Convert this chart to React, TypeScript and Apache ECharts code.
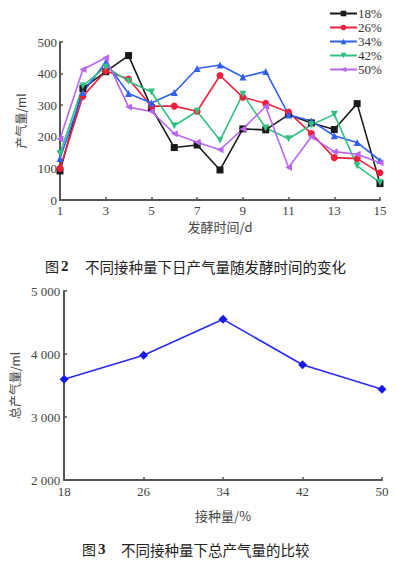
import React, { useEffect, useRef } from "react";
import * as echarts from "echarts";

const days = ["1", "2", "3", "4", "5", "6", "7", "8", "9", "10", "11", "12", "13", "14", "15"];
const s18 = [92, 353, 406, 457, 292, 166, 174, 95, 225, 222, 270, 244, 223, 305, 52];
const s26 = [100, 328, 408, 383, 297, 297, 281, 394, 325, 306, 278, 210, 134, 131, 86];
const s34 = [131, 340, 436, 337, 307, 340, 416, 427, 389, 407, 270, 250, 203, 182, 125];
const s42 = [147, 361, 421, 376, 342, 235, 281, 189, 335, 228, 194, 238, 271, 108, 55];
const s50 = [193, 413, 450, 294, 280, 210, 183, 159, 225, 296, 103, 200, 153, 145, 118];
const seriesNames = ["18%", "26%", "34%", "42%", "50%"];

const inoculum = ["18", "26", "34", "42", "50"];
const totalGas = [3600, 3980, 4550, 3830, 3440];

const SERIF = "'Liberation Serif', 'DejaVu Serif', serif";
const CJK = "'Noto Sans CJK SC', sans-serif";
const AX = "#555";

export default function App() {
  const ref = useRef<HTMLDivElement>(null);
  useEffect(() => {
    if (!ref.current) return;
    const chart = echarts.init(ref.current, undefined, { renderer: "svg" });
    const colors = ["#1a1a1a", "#f0203c", "#3060f0", "#30c080", "#b866f0"];
    const symbols = [
      "rect",
      "circle",
      "triangle",
      "path://M0,0 L10,0 L5,9 Z",
      "path://M0,5 L9,0 L9,10 Z",
    ];
    const data = [s18, s26, s34, s42, s50];
    const axisLineStyle = { show: true, lineStyle: { color: AX, width: 2 } };
    const tickStyle = { show: true, inside: true, length: 3, lineStyle: { color: AX, width: 1.5 } };
    const labelStyle = { color: "#444", fontFamily: SERIF, fontSize: 13 };
    const fmt = (v: number) =>
      v >= 1000 ? `${Math.floor(v / 1000)} ${String(v % 1000).padStart(3, "0")}` : String(v);

    chart.setOption({
      animation: false,
      backgroundColor: "#fff",
      legend: {
        data: seriesNames,
        orient: "vertical",
        left: 329,
        top: 7,
        padding: 0,
        itemWidth: 27,
        itemHeight: 7,
        itemGap: 1,
        textStyle: { color: "#333", fontFamily: SERIF, fontSize: 13, padding: [0, 0, 0, -4] },
      },
      grid: [
        { left: 60, top: 42, width: 320, height: 158 },
        { left: 62, top: 291, width: 320, height: 189 },
      ],
      xAxis: [
        {
          type: "category",
          gridIndex: 0,
          data: days,
          boundaryGap: false,
          axisLine: axisLineStyle,
          axisTick: { ...tickStyle, interval: 1 },
          axisLabel: { ...labelStyle, interval: 1, margin: 4 },
          name: "发酵时间/d",
          nameLocation: "middle",
          nameGap: 20,
          nameTextStyle: { color: "#444", fontFamily: CJK, fontSize: 13 },
          splitLine: { show: false },
        },
        {
          type: "category",
          gridIndex: 1,
          data: inoculum,
          boundaryGap: false,
          axisLine: axisLineStyle,
          axisTick: tickStyle,
          axisLabel: { ...labelStyle, margin: 5 },
          name: "接种量/%",
          nameLocation: "middle",
          nameGap: 29,
          nameTextStyle: { color: "#444", fontFamily: CJK, fontSize: 13 },
          splitLine: { show: false },
        },
      ],
      yAxis: [
        {
          type: "value",
          gridIndex: 0,
          min: 0,
          max: 500,
          interval: 100,
          axisLine: axisLineStyle,
          axisTick: tickStyle,
          axisLabel: { ...labelStyle, margin: 3 },
          splitLine: { show: false },
          name: "产气量/ml",
          nameLocation: "middle",
          nameRotate: 90,
          nameGap: 34,
          nameTextStyle: { color: "#444", fontFamily: CJK, fontSize: 12 },
        },
        {
          type: "value",
          gridIndex: 1,
          min: 2000,
          max: 5000,
          interval: 1000,
          axisLine: axisLineStyle,
          axisTick: tickStyle,
          axisLabel: { ...labelStyle, margin: 4, formatter: fmt },
          splitLine: { show: false },
          name: "总产气量/ml",
          nameLocation: "middle",
          nameRotate: 90,
          nameGap: 43,
          nameTextStyle: { color: "#444", fontFamily: CJK, fontSize: 12 },
        },
      ],
      series: [
        ...seriesNames.map((n, i) => ({
          name: n,
          type: "line",
          xAxisIndex: 0,
          yAxisIndex: 0,
          data: data[i],
          symbol: symbols[i],
          symbolSize: 7,
          showAllSymbol: true,
          lineStyle: { color: colors[i], width: 1.6 },
          itemStyle: { color: colors[i] },
        })),
        {
          name: "总产气量",
          type: "line",
          xAxisIndex: 1,
          yAxisIndex: 1,
          data: totalGas,
          symbol: "diamond",
          symbolSize: 9,
          lineStyle: { color: "#2a2af0", width: 1.6 },
          itemStyle: { color: "#1a1ae8" },
        },
      ],
      graphic: [
        { type: "text", x: 45, y: 266, style: { text: "图", fontFamily: CJK, fontSize: 14, fill: "#222", textVerticalAlign: "middle" } },
        { type: "text", x: 61, y: 266, style: { text: "2", fontFamily: SERIF, fontWeight: "bold", fontSize: 15, fill: "#222", textVerticalAlign: "middle" } },
        { type: "text", x: 85, y: 266, style: { text: "不同接种量下日产气量随发酵时间的变化", fontFamily: CJK, fontSize: 14.5, fill: "#222", textVerticalAlign: "middle" } },
        { type: "text", x: 82, y: 549, style: { text: "图", fontFamily: CJK, fontSize: 14, fill: "#222", textVerticalAlign: "middle" } },
        { type: "text", x: 98, y: 549, style: { text: "3", fontFamily: SERIF, fontWeight: "bold", fontSize: 15, fill: "#222", textVerticalAlign: "middle" } },
        { type: "text", x: 121, y: 549, style: { text: "不同接种量下总产气量的比较", fontFamily: CJK, fontSize: 14.5, fill: "#222", textVerticalAlign: "middle" } },
      ],
    });
    return () => chart.dispose();
  }, []);
  return (
    <div
      ref={ref}
      style={{ position: "absolute", left: 0, top: 0, width: 398, height: 563, background: "#fff" }}
    />
  );
}
